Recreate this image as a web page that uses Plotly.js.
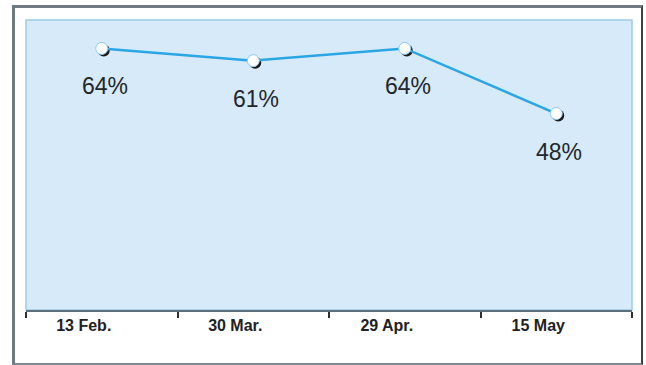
<!DOCTYPE html>
<html>
<head>
<meta charset="utf-8">
<script src="https://cdn.plot.ly/plotly-3.0.1.min.js"></script>
<style>
  html, body { margin: 0; padding: 0; background: #ffffff; }
  #wrap { position: relative; width: 646px; height: 365px; }
  #chart { position: absolute; left: 0; top: 0; width: 646px; height: 365px; }
  #frame {
    position: absolute; left: 12px; top: 5px; width: 626px; height: 355px;
    border-left: 3px solid #6f7b80; border-top: 3px solid #6f7b80;
    border-right: 2px solid #3a3f42; border-bottom: 2px solid #7d878c;
    pointer-events: none;
  }
</style>
</head>
<body>
<div id="wrap">
  <div id="chart"></div>
  <div id="frame"></div>
</div>
<script>
const categories = ["13 Feb.", "30 Mar.", "29 Apr.", "15 May"];
const values = [64, 61, 64, 48];
const valueLabels = ["64%", "61%", "64%", "48%"];

const W = 646, H = 365;
const margin = { l: 26, r: 14, t: 20, b: 55 };
const plotW = W - margin.l - margin.r;
const plotH = H - margin.t - margin.b;
const xRange = [-0.5, 3.5];
const yRange = [-0.3, 71.0];
const pxPerCat = plotW / (xRange[1] - xRange[0]);
const pxPerUnit = plotH / (yRange[1] - yRange[0]);
const sh = 2; // shadow offset in pixels (right and down)
const xShadowRange = [xRange[0] - sh / pxPerCat, xRange[1] - sh / pxPerCat];
const yShadowRange = [yRange[0] + sh / pxPerUnit, yRange[1] + sh / pxPerUnit];

const shadow = {
  x: categories, y: values, type: "scatter", mode: "markers",
  xaxis: "x", yaxis: "y",
  marker: { size: 12, color: "#1a1a1a" },
  hoverinfo: "skip", showlegend: false
};
const line = {
  x: categories, y: values, type: "scatter", mode: "lines+markers",
  xaxis: "x2", yaxis: "y2",
  line: { color: "#2aa6e4", width: 2.5 },
  marker: { size: 12, color: "#ffffff", line: { color: "#8fcaf0", width: 1 } },
  showlegend: false
};

const annotations = categories.map((c, i) => ({
  x: c, y: values[i], xref: "x2", yref: "y2",
  text: valueLabels[i], showarrow: false,
  xanchor: "center", yanchor: "middle",
  xshift: 3, yshift: -38,
  font: { family: "Liberation Sans, Arial, sans-serif", size: 23, color: "#23272b" }
}));

const layout = {
  width: W, height: H,
  margin: margin,
  paper_bgcolor: "#ffffff",
  plot_bgcolor: "#d6eaf9",
  showlegend: false,
  xaxis: {
    type: "category", categoryarray: categories, range: xShadowRange,
    visible: false, fixedrange: true
  },
  yaxis: {
    range: yShadowRange, visible: false, fixedrange: true
  },
  xaxis2: {
    type: "category", categoryarray: categories, range: xRange,
    overlaying: "x", side: "bottom",
    showgrid: false, zeroline: false,
    showline: true, linecolor: "#5d6f7a", linewidth: 2,
    ticks: "outside", tickson: "boundaries", ticklen: 6, tickwidth: 2, tickcolor: "#2a2f33",
    ticklabelshift: -18,
    tickfont: { family: "Liberation Sans, Arial, sans-serif", size: 16, color: "#222222", weight: "bold" },
    fixedrange: true
  },
  yaxis2: {
    range: yRange, overlaying: "y", visible: false, fixedrange: true
  },
  shapes: [{
    type: "rect", xref: "paper", yref: "paper", x0: 0, x1: 1, y0: 0, y1: 1,
    line: { color: "#9dcbea", width: 1.5 }, layer: "below"
  }],
  annotations: annotations
};

Plotly.newPlot("chart", [shadow, line], layout, { displayModeBar: false, staticPlot: true });
</script>
</body>
</html>
